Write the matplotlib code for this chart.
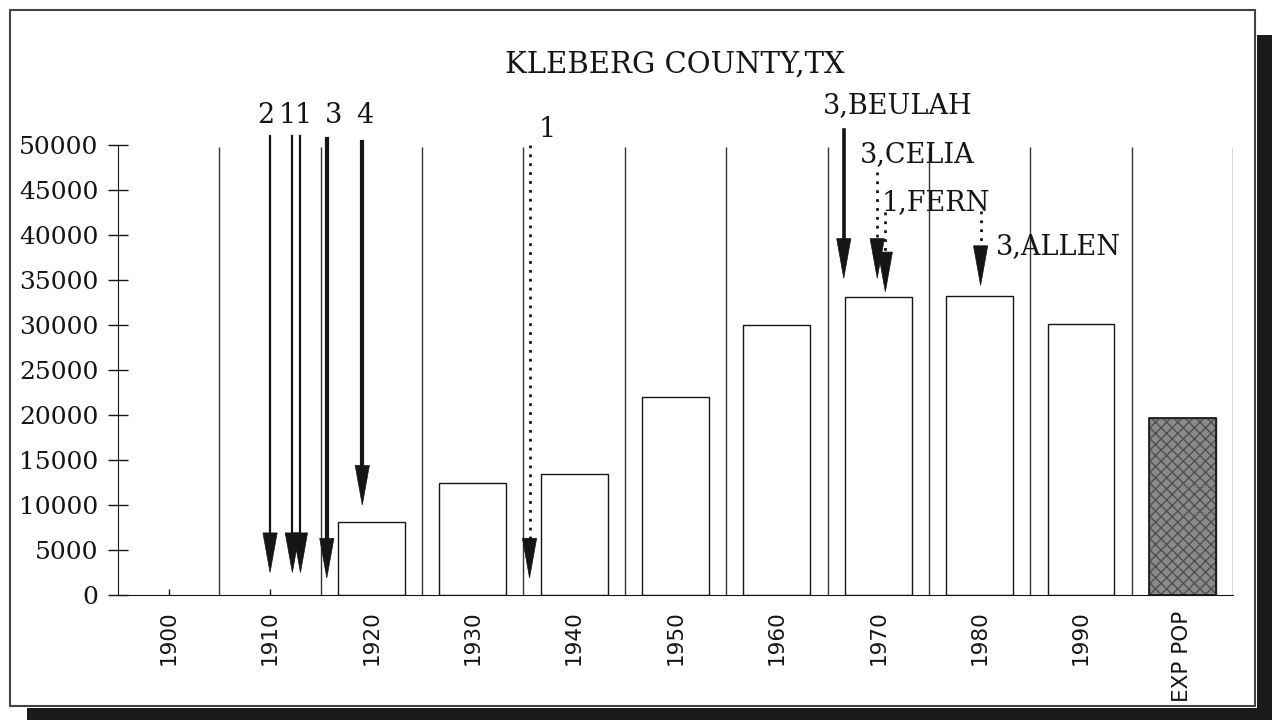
import numpy as np
import matplotlib.pyplot as plt
from matplotlib.patches import Rectangle

# Population by census year, Kleberg County TX
categories = ['1900', '1910', '1920', '1930', '1940', '1950',
              '1960', '1970', '1980', '1990', 'EXP POP']
population = [0, 0, 8100, 12500, 13500, 22000, 30000, 33100, 33200, 30100, 19700]

# Hurricane arrows: label, year, top of shaft, tip, dotted?
storm_labels = ['2', '1', '1', '3', '4', '1', '3,BEULAH', '3,CELIA', '1,FERN', '3,ALLEN']
storm_years = [1910, 1912.2, 1913, 1915.6, 1919.1, 1935.6, 1966.6, 1969.9, 1970.7, 1980.1]
storm_top = [51000, 51000, 51000, 50700, 50300, 50000, 51700, 47000, 42500, 42700]
storm_tip = [2500, 2500, 2500, 1900, 10000, 1900, 35200, 35200, 33700, 34400]
storm_dotted = [False, False, False, False, False, True, False, True, True, True]
storm_lw = [1.6, 1.6, 1.6, 3.0, 3.0, 2.0, 2.6, 2.0, 2.0, 2.0]
# label anchor (x in category units, y in data units)
label_x = [0.96, 1.17, 1.33, 1.63, 1.93, 3.65, 6.45, 6.82, 7.03, 8.16]
label_y = [53300, 53300, 53300, 53300, 53300, 51700, 54400, 48900, 43600, 38700]
label_ha = ['center'] * 5 + ['left'] * 5

serif = 'DejaVu Serif'
ink = '#151515'

fig = plt.figure(figsize=(12.72, 7.2), dpi=100)
fig.patch.set_facecolor('white')

# scanned page frame and dark edge
fig.patches.append(Rectangle((10/1272, 1-706/720), 1245/1272, 696/720, transform=fig.transFigure,
                             fill=False, edgecolor='#444444', lw=1.5))
fig.patches.append(Rectangle((1257/1272, 0), 15/1272, 1-35/720, transform=fig.transFigure,
                             facecolor='#1a1a1a', edgecolor='none'))
fig.patches.append(Rectangle((27/1272, 0), 1245/1272, 12/720, transform=fig.transFigure,
                             facecolor='#1a1a1a', edgecolor='none'))

ax = fig.add_axes([118/1272, 1-595/720, (1233-118)/1272, (595-91)/720])
ax.set_facecolor('none')

x = np.arange(len(categories))
colors = ['white'] * (len(categories) - 1) + ['#8a8a8a']
hatches = [None] * (len(categories) - 1) + ['xxx']
for xi, val, c, h in zip(x, population, colors, hatches):
    if val > 0:
        ax.bar(xi, val, width=0.66, facecolor=c, edgecolor=ink if h is None else '#505050',
               linewidth=1.0, hatch=h, zorder=2)
# outline of the shaded bar
ax.bar(x[-1], population[-1], width=0.66, facecolor='none', edgecolor=ink, linewidth=1.2, zorder=3)

# separators between categories
ax.vlines(np.arange(len(categories)) + 0.5, -700, 49800, color='#333333', lw=1.0, zorder=1)

ax.set_xlim(-0.5, len(categories) - 0.5)
ax.set_ylim(0, 56000)

# arrows
for lab, yr, top, tip, dot, lw, lx, ly, ha in zip(storm_labels, storm_years, storm_top, storm_tip,
                                                  storm_dotted, storm_lw, label_x, label_y, label_ha):
    xp = (yr - 1900) / 10
    hl = 4400
    ax.plot([xp, xp], [top, tip + hl * 0.5], color=ink, lw=lw,
            linestyle=(0, (1, 2.2)) if dot else '-', clip_on=False, zorder=4)
    ax.arrow(xp, tip + hl, 0, -hl, width=0, head_width=0.14, head_length=hl,
             length_includes_head=True, color=ink, lw=0.5, clip_on=False, zorder=5)
    ax.text(lx, ly, lab, ha=ha, va='center', fontsize=19.5, family=serif, color=ink, clip_on=False)

for side in ['top', 'right']:
    ax.spines[side].set_visible(False)
ax.spines['left'].set_bounds(0, 50000)
ax.spines['left'].set_color(ink)
ax.spines['bottom'].set_color(ink)

ax.set_yticks(np.arange(0, 50001, 5000))
ax.set_yticklabels([str(v) for v in range(0, 50001, 5000)], fontsize=18, family=serif, color=ink)
ax.tick_params(axis='y', direction='inout', length=14, width=1, pad=7, colors=ink)

ax.set_xticks(x)
ax.set_xticklabels(categories, rotation=90, fontsize=15.5, family='DejaVu Sans', color='#333333')
ax.tick_params(axis='x', direction='in', length=4, width=1, pad=11, colors=ink)

fig.text(675/1272, 1-65/720, 'KLEBERG COUNTY,TX', ha='center', va='center',
         fontsize=21, family=serif, color=ink)

fig.savefig('out.png', dpi=100)
